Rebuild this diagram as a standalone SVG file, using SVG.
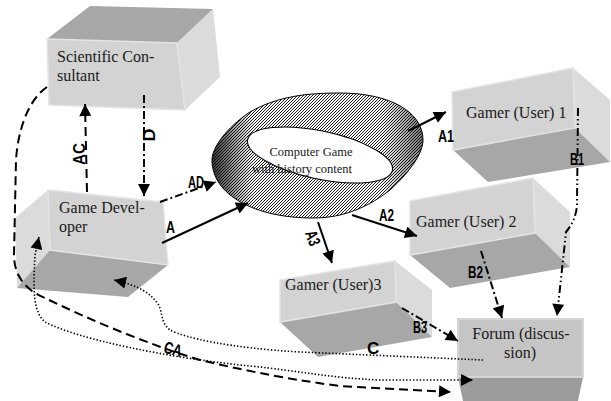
<svg xmlns="http://www.w3.org/2000/svg" width="611" height="401" viewBox="0 0 611 401">
<style>
.box text{font-family:"Liberation Serif","Times New Roman",serif;font-size:16px;fill:#1a1a1a}
.front{fill:#d3d3d3;stroke:#e4e4e4;stroke-width:1.5}
.side{fill:#dbdbdb}
.dark{fill:#a7a7a7}
.ln{fill:none;stroke:#000;stroke-width:2}
.dash{stroke-dasharray:9,5}
.dashdot{stroke-dasharray:8,3,2,3}
.dashdotdot{stroke-dasharray:8,3,1.5,3,1.5,3}
.dot{stroke-width:1.6;stroke-dasharray:1.4,2}
.lbl{font-family:"Liberation Sans",Arial,sans-serif;font-weight:bold;font-size:17px;fill:#000}
</style>
<defs>
<marker id="ah" viewBox="0 0 12 12" refX="12" refY="6" markerWidth="13" markerHeight="12" markerUnits="userSpaceOnUse" orient="auto-start-reverse">
<path d="M0,0 L12,6 L0,12 Z" fill="#000"/>
</marker>
<pattern id="hatch" patternUnits="userSpaceOnUse" width="3" height="3">
<rect width="3" height="3" fill="#fff"/>
<path d="M-1,1 L1,-1 M0,3 L3,0 M2,4 L4,2" stroke="#000" stroke-width="0.9"/>
</pattern>
<linearGradient id="shade" gradientUnits="userSpaceOnUse" x1="212" y1="150" x2="423" y2="150">
<stop offset="0" stop-color="#000" stop-opacity="0.8"/>
<stop offset="0.2" stop-color="#000" stop-opacity="0"/>
<stop offset="0.8" stop-color="#000" stop-opacity="0"/>
<stop offset="1" stop-color="#000" stop-opacity="0.55"/>
</linearGradient>
</defs>

<g id="consultant" class="box">
<polygon class="dark" points="47,39 90,6 213,9 177,43"/>
<polygon class="side" points="177,43 213,9 220,77 185,110"/>
<polygon class="front" points="47,39 177,43 185,110 49,105"/>
<text x="57" y="62">Scientific Con-</text>
<text x="57" y="81">sultant</text>
</g>

<g id="developer" class="box">
<polygon class="side" points="15,218 48,190 50,250 17,288"/>
<polygon class="dark" points="17,288 50,250 168,265 128,297"/>
<polygon class="front" points="48,190 163,202 168,265 50,250"/>
<text x="59" y="213">Game Devel-</text>
<text x="59" y="232">oper</text>
</g>

<g id="game">
<path d="M212,160 C212,148 226,128 250,112 C278,96 308,93 340,93 C390,93 423,112 423,140 C423,152 412,170 390,190 C362,212 336,218 313,218 C255,218 212,195 212,160 Z" fill="url(#hatch)" stroke="#000" stroke-width="1"/>
<path d="M212,160 C212,148 226,128 250,112 C278,96 308,93 340,93 C390,93 423,112 423,140 C423,152 412,170 390,190 C362,212 336,218 313,218 C255,218 212,195 212,160 Z" fill="url(#shade)"/>
<ellipse cx="320" cy="155" rx="74" ry="24" transform="rotate(12 320 155)" fill="#fff" stroke="#000" stroke-width="1"/>
<text x="311" y="156" text-anchor="middle" font-family="Liberation Serif,Times New Roman,serif" font-size="12.5" fill="#1a1a1a">Computer Game</text>
<text x="302" y="173" text-anchor="middle" font-family="Liberation Serif,Times New Roman,serif" font-size="12.5" fill="#1a1a1a">with history content</text>
</g>

<g id="gamer1" class="box">
<polygon class="side" points="573,68 610,100 610,162 575,128"/>
<polygon class="dark" points="453,150 575,128 610,162 488,182"/>
<polygon class="front" points="452,92 573,68 575,128 453,150"/>
<text x="466" y="118">Gamer (User) 1</text>
</g>

<g id="gamer2" class="box">
<polygon class="side" points="533,178 570,212 570,267 535,233"/>
<polygon class="dark" points="410,255 535,233 570,267 450,288"/>
<polygon class="front" points="410,201 533,178 535,233 410,255"/>
<text x="416" y="227">Gamer (User) 2</text>
</g>

<g id="gamer3" class="box">
<polygon class="side" points="395,261 432,290 432,337 396,302"/>
<polygon class="dark" points="280,322 396,302 432,337 318,357"/>
<polygon class="front" points="280,280 395,261 396,302 280,322"/>
<text x="285" y="290">Gamer (User)3</text>
</g>

<g id="forum" class="box">
<polygon fill="#9c9c9c" points="458,377 583,377 578,401 463,401"/>
<polygon fill="#c5c5c5" stroke="#d6d6d6" stroke-width="2" points="458,319 583,319 583,377 458,377"/>
<text x="521" y="339" text-anchor="middle" font-size="17">Forum (discus-</text>
<text x="520" y="358" text-anchor="middle" font-size="17">sion)</text>
</g>

<g id="connectors">
<path class="ln dash" d="M87,192 L85,104" marker-end="url(#ah)"/>
<path class="ln dashdot" d="M144,95 L144,196" marker-end="url(#ah)"/>
<path class="ln dashdot" d="M160,202 L216,182" marker-end="url(#ah)"/>
<path class="ln" d="M162,243 L248,203" marker-end="url(#ah)"/>
<path class="ln" d="M408,131 L446,112" marker-end="url(#ah)"/>
<path class="ln" d="M352,215 L417,236" marker-end="url(#ah)"/>
<path class="ln" d="M318,222 L332,263" marker-end="url(#ah)"/>
<path class="ln dashdotdot" d="M578,108 L577,205 Q576,220 566,232 L557,316" marker-end="url(#ah)"/>
<path class="ln dashdot" d="M481,251 L502,318" marker-end="url(#ah)"/>
<path class="ln dashdot" d="M402,308 L458,341" marker-end="url(#ah)"/>
<path class="ln dot" d="M483,360 L300,352 C230,348 185,338 170,330 C160,322 163,312 158,304 C150,293 140,286 114,280" marker-end="url(#ah)"/>
<path class="ln dot" d="M39,237 L35,255 C33,290 33,312 45,322 C80,340 170,358 250,366 C300,371 330,378 380,380 L473,380" marker-start="url(#ah)" marker-end="url(#ah)"/>
<path class="ln dash" d="M47,87 C28,100 18,130 16,160 L14,255 C14,275 25,290 45,298 C90,320 150,345 200,360 C250,372 300,381 340,386 L451,392" marker-end="url(#ah)"/>
<text class="lbl" transform="translate(85,154) rotate(-90)" text-anchor="middle" textLength="22" lengthAdjust="spacingAndGlyphs">AC</text>
<text class="lbl" transform="translate(155,135) rotate(-90)" text-anchor="middle" textLength="13" lengthAdjust="spacingAndGlyphs">D</text>
<text class="lbl" x="188" y="188" font-size="14" textLength="16" lengthAdjust="spacingAndGlyphs">AD</text>
<text class="lbl" x="166" y="233" textLength="9" lengthAdjust="spacingAndGlyphs">A</text>
<text class="lbl" x="438" y="142" textLength="16" lengthAdjust="spacingAndGlyphs">A1</text>
<text class="lbl" x="570" y="165" textLength="14" lengthAdjust="spacingAndGlyphs">B1</text>
<text class="lbl" x="379" y="221" textLength="15" lengthAdjust="spacingAndGlyphs">A2</text>
<text class="lbl" transform="translate(313,238) rotate(70)" text-anchor="middle" y="6" textLength="15" lengthAdjust="spacingAndGlyphs">A3</text>
<text class="lbl" x="468" y="278" textLength="15" lengthAdjust="spacingAndGlyphs">B2</text>
<text class="lbl" x="413" y="333" textLength="14" lengthAdjust="spacingAndGlyphs">B3</text>
<text class="lbl" x="367" y="354">C</text>
<text class="lbl" transform="translate(173,349) rotate(15)" text-anchor="middle" y="6" textLength="18" lengthAdjust="spacingAndGlyphs">CA</text>
</g>
</svg>
